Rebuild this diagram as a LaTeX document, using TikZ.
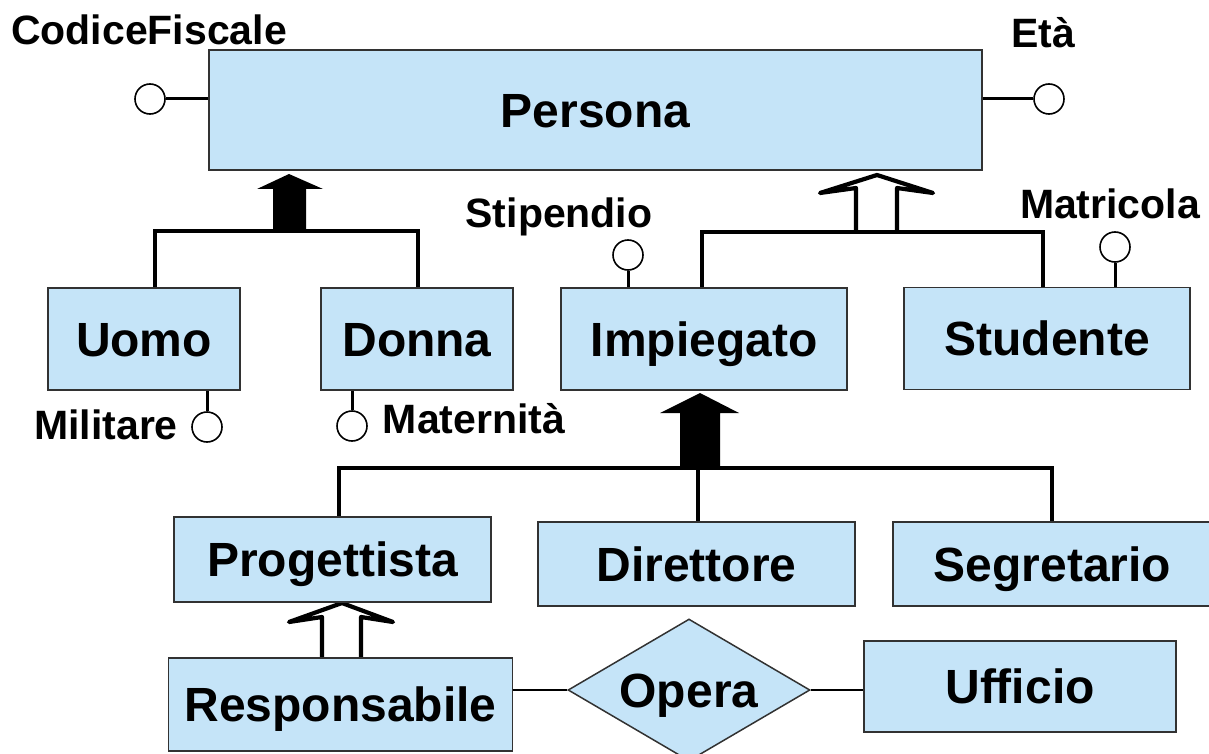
\documentclass[tikz,border=0pt]{standalone}
\usepackage{fontspec}
\setmainfont{Liberation Sans}
\usetikzlibrary{shapes.geometric}
\definecolor{boxfill}{RGB}{197,228,248}
\definecolor{boxline}{RGB}{50,50,50}
\pgfdeclarelayer{bg}
\pgfsetlayers{bg,main}
\begin{document}
\begin{tikzpicture}[x=1pt,y=-1pt,
  ent/.style={draw=boxline, line width=1.5pt, fill=boxfill, inner sep=0pt,
    font=\fontsize{48}{56}\selectfont\bfseries, text height=34.4pt, text depth=0pt},
  reln/.style={ent, diamond, minimum width=242pt, minimum height=142pt, aspect=1.7},
  attrc/.style={circle, draw=black, line width=1.6pt, fill=white, minimum size=30pt, inner sep=0pt},
  attrl/.style={anchor=base, inner sep=0pt, font=\fontsize{41}{48}\selectfont\bfseries},
  attrline/.style={line width=3pt},
  gen/.style={line width=4.5pt, line join=miter},
  openhead/.style={line width=4.2pt, line join=round, fill=white},
  rel/.style={line width=2.6pt}]
\clip (0,0) rectangle (1209,754);
% entities
\node[ent, minimum width=773pt, minimum height=120pt] (persona) at (595.5,110) {Persona};
\node[ent, minimum width=192pt, minimum height=102pt] (uomo) at (144,339) {Uomo};
\node[ent, minimum width=192pt, minimum height=102pt] (donna) at (417,339) {Donna};
\node[ent, minimum width=286pt, minimum height=102pt] (imp) at (704,339) {Impiegato};
\node[ent, minimum width=286pt, minimum height=102pt] (stud) at (1047,338.5) {Studente};
\node[ent, minimum width=317pt, minimum height=85pt] (prog) at (332.5,559.5) {Progettista};
\node[ent, minimum width=317pt, minimum height=84pt] (dir) at (696.5,564) {Direttore};
\node[ent, minimum width=319pt, minimum height=84pt] (segr) at (1052.5,564) {Segretario};
\node[ent, minimum width=344pt, minimum height=93pt] (resp) at (340.5,704.5) {Responsabile};
\node[ent, minimum width=312pt, minimum height=91pt] (uff) at (1020,686.5) {Ufficio};
\node[reln] (opera) at (689,690) {Opera};
% attributes
\node[attrc] (cfC) at (150,99) {};
\node[attrl] (cfL) at (149,45) {CodiceFiscale};
\node[attrc] (etaC) at (1049,99) {};
\node[attrl] (etaL) at (1043,48) {Età};
\node[attrc] (stipC) at (628,255) {};
\node[attrl] (stipL) at (559,227) {Stipendio};
\node[attrc] (matC) at (1115,247) {};
\node[attrl] (matL) at (1110,218) {Matricola};
\node[attrc] (milC) at (207,427) {};
\node[attrl] (milL) at (106,439) {Militare};
\node[attrc] (matnC) at (352,426) {};
\node[attrl] (matnL) at (474,433) {Maternità};
% junction coordinates
\coordinate (j1L) at (155,231);
\coordinate (j1R) at (418,231);
\coordinate (j2L) at (702,232);
\coordinate (j2R) at (1043,232);
\coordinate (j3L) at (339,468);
\coordinate (j3R) at (1052,468);
\coordinate (j3M) at (698,468);
\begin{pgfonlayer}{bg}
% attribute lines
\draw[attrline] (cfC.east) -- (cfC.east -| persona.west);
\draw[attrline] (persona.east |- etaC.west) -- (etaC.west);
\draw[attrline] (stipC.south) -- (stipC.south |- imp.north);
\draw[attrline] (matC.south) -- (matC.south |- stud.north);
\draw[attrline] (milC.north |- uomo.south) -- (milC.north);
\draw[attrline] (matnC.north |- donna.south) -- (matnC.north);
% Uomo / Donna -> Persona (total)
\fill (273,231) -- (273,189) -- (257,189) -- (289,174) -- (323,189) -- (306,189) -- (306,231) -- cycle;
\draw[gen] (j1L |- uomo.north) -- (j1L) -- (j1R) -- (j1R |- donna.north);
% Impiegato / Studente -> Persona (partial)
\draw[openhead] (856,232) -- (856,188) -- (820,193) -- (877,175) -- (933,193) -- (897,188) -- (897,232);
\draw[gen] (j2L |- imp.north) -- (j2L) -- (j2R) -- (j2R |- stud.north);
% Progettista / Direttore / Segretario -> Impiegato (total)
\fill (680,468) -- (680,413) -- (660,413) -- (700,393) -- (739,413) -- (720,413) -- (720,468) -- cycle;
\draw[gen] (j3L |- prog.north) -- (j3L) -- (j3R) -- (j3R |- segr.north);
\draw[gen] (j3M) -- (j3M |- dir.north);
% Responsabile -> Progettista (partial)
\draw[openhead] (322,658) -- (322,617) -- (289,622) -- (342,603) -- (393,622) -- (361,617) -- (361,658);
% relationship
\draw[rel] (opera.west) -- (opera.west -| resp.east);
\draw[rel] (opera.east) -- (opera.east -| uff.west);
\end{pgfonlayer}
\end{tikzpicture}
\end{document}
